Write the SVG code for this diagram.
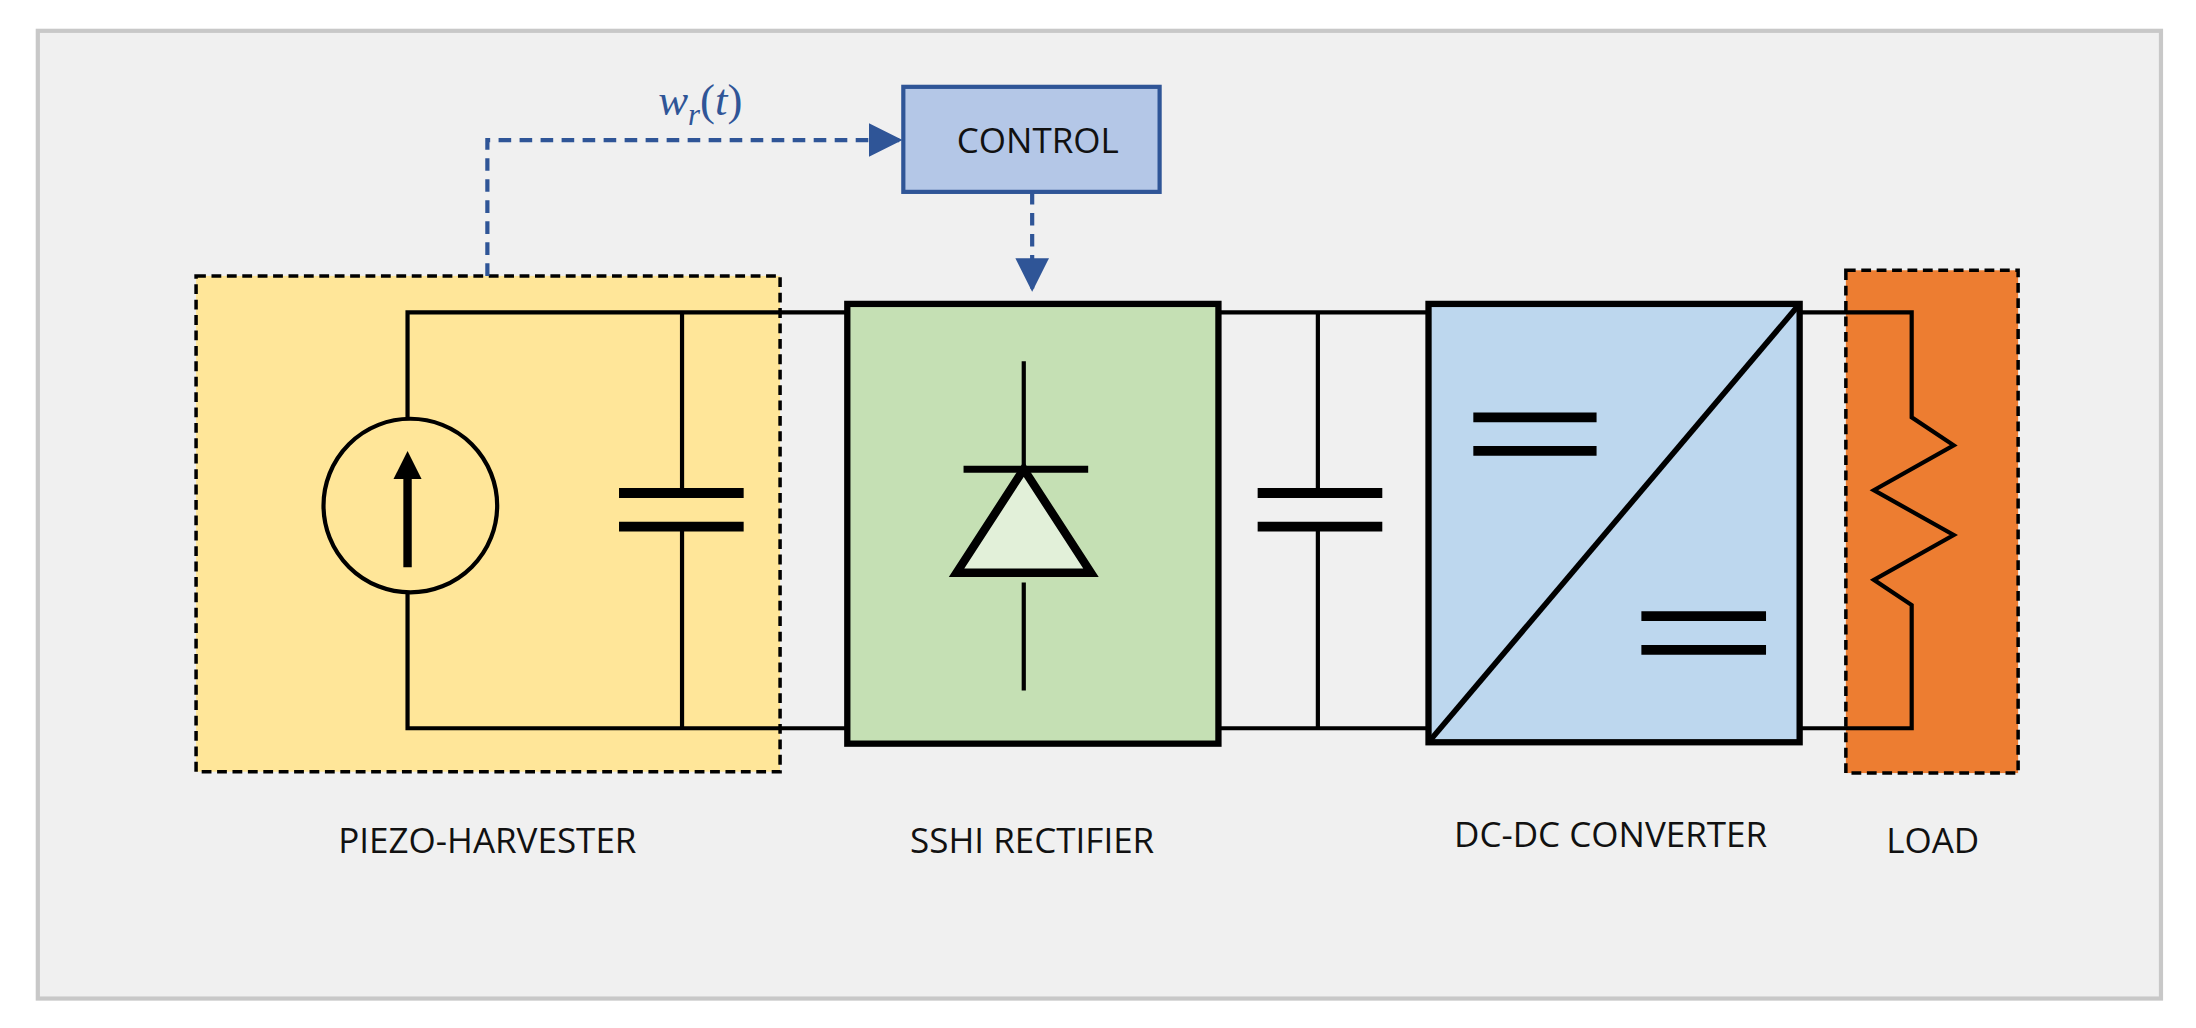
<svg xmlns="http://www.w3.org/2000/svg" width="2196" height="1028" viewBox="0 0 2196 1028">
<style>
.w{fill:none;stroke:#000;stroke-width:3}
.b{stroke:#000;stroke-width:4.5}
.lbl{font-family:"Open Sans","Liberation Sans",sans-serif;font-size:25px;fill:#111;text-anchor:middle}
.pl{stroke:#000;stroke-width:7}
.bl{fill:none;stroke:#2f5597;stroke-width:3;stroke-dasharray:9 6}
</style>
<defs>
<marker id="ab" viewBox="0 0 10 10" refX="9" refY="5" markerWidth="24" markerHeight="24" markerUnits="userSpaceOnUse" orient="auto"><path d="M0,0 L10,5 L0,10z" fill="#2f5597"/></marker></defs>
<rect width="2196" height="1028" fill="#fff"/>
<g transform="scale(1.4005)">
<rect x="27" y="22" width="1516" height="691" fill="#f0f0f0" stroke="#c8c8c8" stroke-width="3"/>
<g id="piezo">
<rect x="140" y="197" width="417" height="354" fill="#ffe699" stroke="#000" stroke-width="2.5" stroke-dasharray="7 4"/>
<circle cx="293" cy="361" r="62" fill="none" stroke="#000" stroke-width="3"/>
<path class="w" d="M291,298V223H605M291,424V520H605M487,223V352M487,376V520"/>
<path d="M291,405V338" stroke="#000" stroke-width="6"/><path d="M281,342L291,322L301,342z" fill="#000"/>
<path class="pl" d="M442,352H531M442,376H531"/>
<text class="lbl" x="348" y="609">PIEZO-HARVESTER</text>
</g>
<g id="sshi">
<rect class="b" x="605" y="217" width="265" height="314" fill="#c5e0b4"/>
<path class="w" d="M731,258V335M731,416V493"/>
<path d="M731,335L683,409H779z" fill="#e2f0d9" stroke="#000" stroke-width="6"/>
<path d="M688,335H777" stroke="#000" stroke-width="5"/>
<text class="lbl" x="737" y="609">SSHI RECTIFIER</text>
</g>
<g id="mid">
<path class="w" d="M870,223H1020M870,520H1020M941,223V352M941,376V520"/>
<path class="pl" d="M898,352H987M898,376H987"/>
</g>
<g id="dcdc">
<rect class="b" x="1020" y="217" width="265" height="313" fill="#bdd7ee"/>
<path d="M1020,530L1285,217" stroke="#000" stroke-width="4"/>
<path class="pl" d="M1052,298H1140M1052,322H1140M1172,440H1261M1172,464H1261"/>
<text class="lbl" x="1150" y="605">DC-DC CONVERTER</text>
</g>
<g id="load">
<rect x="1318" y="193" width="123" height="359" fill="#ed7d31" stroke="#000" stroke-width="2.5" stroke-dasharray="7 4"/>
<path class="w" d="M1285,223H1365V298L1395,318L1338,350L1395,382L1338,414L1365,432V520H1285"/>
<text class="lbl" x="1380" y="609">LOAD</text>
</g>
<g id="control">
<rect x="645" y="62" width="183" height="75" fill="#b4c7e7" stroke="#2f5597" stroke-width="3"/>
<text class="lbl" x="741" y="109" font-size="24">CONTROL</text>
</g>
<g id="connectors">
<path class="bl" d="M348,197V100H642" marker-end="url(#ab)"/>
<path class="bl" d="M737,137V206" marker-end="url(#ab)"/>
<text x="500" y="82" font-family="Liberation Serif,serif" font-style="italic" font-size="32" fill="#2f5597" text-anchor="middle">w<tspan font-size="22" dy="7">r</tspan><tspan dy="-7" font-style="normal">(</tspan>t<tspan font-style="normal">)</tspan></text>
</g>
</g>
</svg>
